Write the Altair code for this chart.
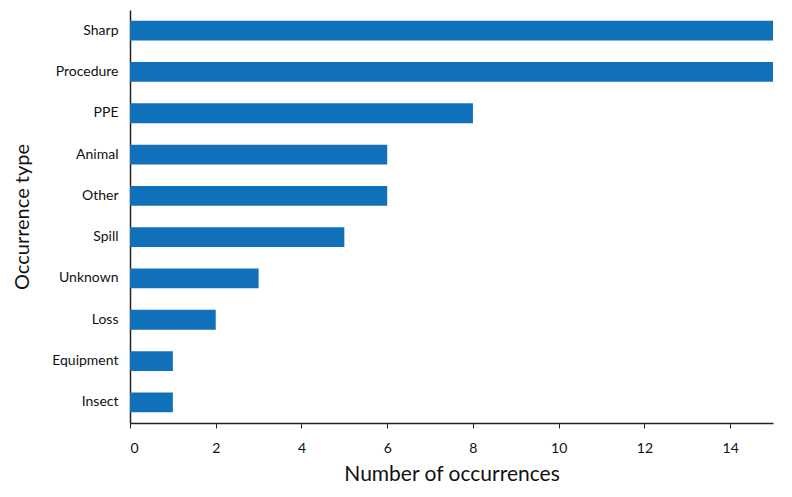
import altair as alt
import pandas as pd

categories = ["Sharp", "Procedure", "PPE", "Animal", "Other", "Spill", "Unknown", "Loss", "Equipment", "Insect"]
counts = [15, 15, 8, 6, 6, 5, 3, 2, 1, 1]

df = pd.DataFrame({"type": categories, "count": counts})

FONT = "Lato"

chart = alt.Chart(df).mark_bar(color="#1170BA").encode(
    x=alt.X("count:Q",
            scale=alt.Scale(domain=[0, 15], nice=False, zero=True),
            axis=alt.Axis(title="Number  of occurrences", values=[0, 2, 4, 6, 8, 10, 12, 14],
                          grid=False, tickSize=5, tickColor="#222", domainColor="#222",
                          labelFontSize=14, labelColor="#111", labelPadding=13, labelFont=FONT,
                          titleFontSize=21, titleFontWeight="normal", titleColor="#111",
                          titleFont=FONT, titlePadding=8)),
    y=alt.Y("type:N", sort=categories,
            scale=alt.Scale(paddingInner=0.52, paddingOuter=0.26),
            axis=alt.Axis(title="Occurrence type", ticks=False, grid=False, domainColor="#222",
                          labelFontSize=14, labelColor="#111", labelPadding=12, labelFont=FONT,
                          titleFontSize=20, titleFontWeight="normal", titleColor="#111",
                          titleFont=FONT, titlePadding=19)),
).properties(
    width=643, height=413,
    autosize=alt.AutoSizeParams(type="none"),
    padding={"left": 122, "top": 2, "right": 10, "bottom": 70},
).configure_view(stroke=None).configure_axis(domainWidth=1.5)

chart.save("out.html", embed_options={"renderer": "svg", "actions": False})
